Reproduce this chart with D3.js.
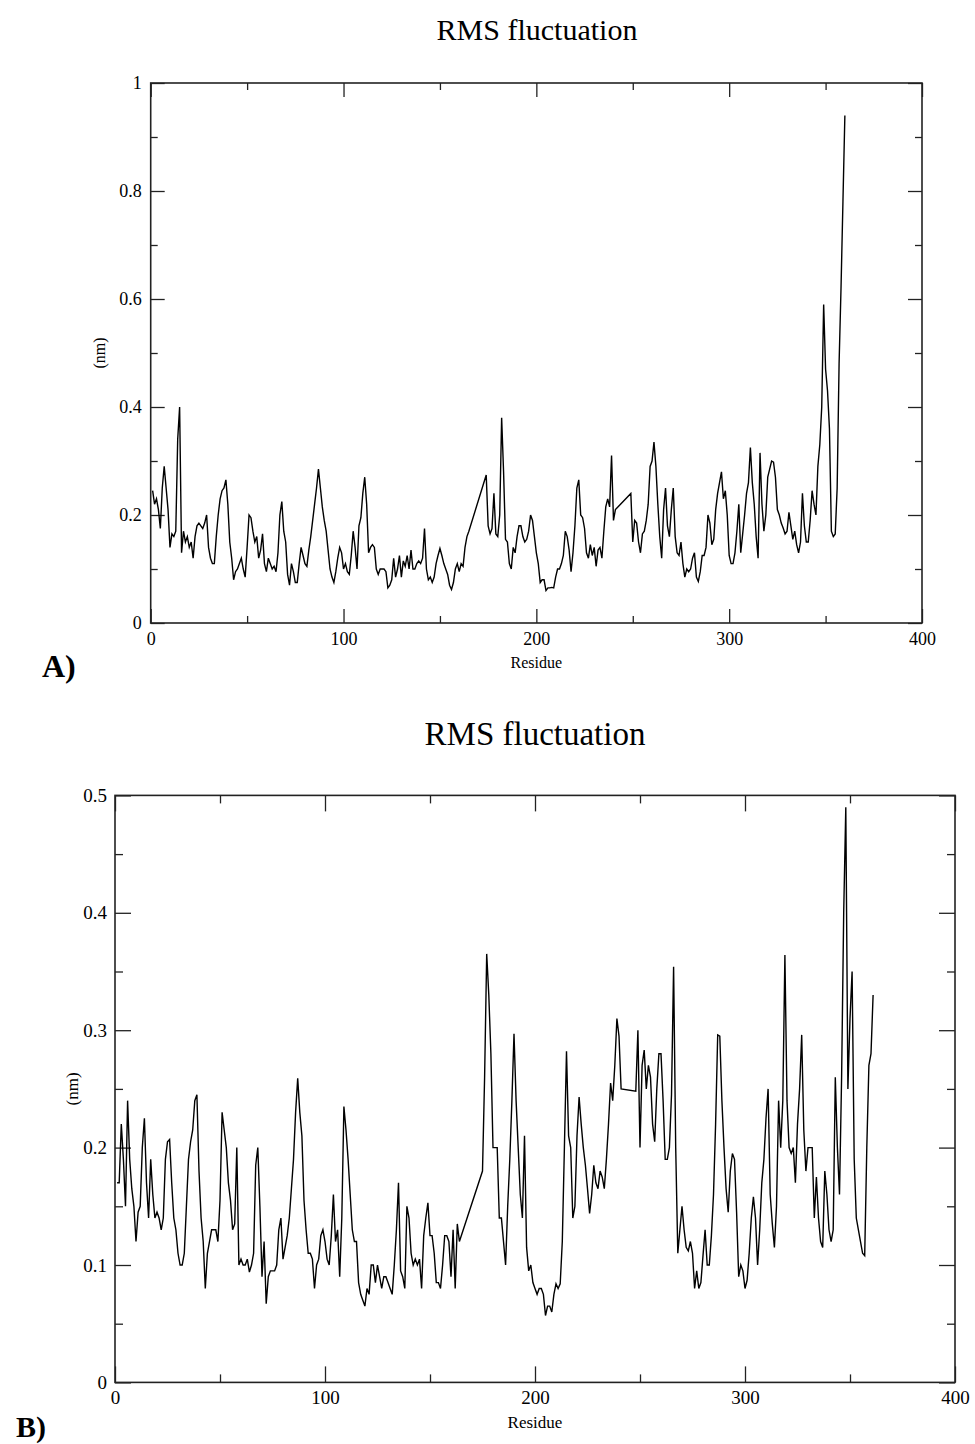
<!DOCTYPE html>
<html>
<head>
<meta charset="utf-8">
<script src="https://cdn.jsdelivr.net/npm/d3@7"></script>
<style>
  body { margin: 0; background: #fff; }
  svg text { font-family: 'Liberation Serif', 'Times New Roman', serif; fill: #000; }
</style>
</head>
<body>
<div class="canvas"></div>
<script>
// chart text
const titleText = 'RMS fluctuation'
const xLabel = 'Residue'
const yLabel = '(nm)'

// residue ticks (shared)
const xTicks = [0, 100, 200, 300, 400]
const xMinorTicks = [50, 150, 250, 350]

// panel A - first residue of each continuous stretch, then RMSF (nm) per residue
const startsA = [1, 174, 249]
const rmsfA1 = [
  0.245, 0.22, 0.23, 0.21, 0.175, 0.25, 0.29, 0.25, 0.21, 0.14,
  0.165, 0.16, 0.17, 0.34, 0.40, 0.13, 0.17, 0.15, 0.16, 0.14,
  0.15, 0.12, 0.16, 0.18, 0.185, 0.18, 0.175, 0.185, 0.2, 0.14,
  0.12, 0.11, 0.11, 0.16, 0.2, 0.23, 0.245, 0.25, 0.265, 0.22,
  0.15, 0.12, 0.08, 0.095, 0.1, 0.11, 0.12, 0.1, 0.085, 0.14,
  0.2, 0.195, 0.17, 0.15, 0.16, 0.12, 0.135, 0.165, 0.11, 0.095,
  0.12, 0.11, 0.1, 0.105, 0.095, 0.13, 0.2, 0.225, 0.17, 0.15,
  0.09, 0.07, 0.11, 0.095, 0.075, 0.075, 0.11, 0.14, 0.125, 0.11,
  0.105, 0.135, 0.16, 0.19, 0.22, 0.25, 0.285, 0.25, 0.215, 0.19,
  0.17, 0.135, 0.1, 0.085, 0.075, 0.095, 0.12, 0.14, 0.13, 0.1,
  0.11, 0.095, 0.09, 0.125, 0.17, 0.14, 0.1, 0.18, 0.195, 0.24,
  0.27, 0.22, 0.13, 0.14, 0.145, 0.14, 0.1, 0.09, 0.1, 0.1,
  0.1, 0.095, 0.065, 0.07, 0.08, 0.12, 0.085, 0.1, 0.125, 0.085,
  0.115, 0.105, 0.125, 0.1, 0.135, 0.1, 0.1, 0.11, 0.115, 0.11,
  0.12, 0.175, 0.1, 0.08, 0.085, 0.075, 0.085, 0.11, 0.125, 0.138,
  0.125, 0.11, 0.1, 0.09, 0.07, 0.062, 0.075, 0.1, 0.11, 0.095,
  0.11, 0.105, 0.14, 0.16, 0.17
]
const rmsfA2 = [
  0.274, 0.18, 0.165, 0.175, 0.24, 0.165, 0.16,
  0.2, 0.38, 0.28, 0.155, 0.15, 0.11, 0.1, 0.14, 0.13, 0.16,
  0.18, 0.18, 0.16, 0.15, 0.155, 0.17, 0.2, 0.19, 0.16, 0.13,
  0.11, 0.075, 0.08, 0.08, 0.06, 0.065, 0.065, 0.066, 0.065, 0.085,
  0.1, 0.1, 0.11, 0.125, 0.17, 0.16, 0.135, 0.095, 0.13, 0.18,
  0.25, 0.265, 0.2, 0.195, 0.175, 0.13, 0.12, 0.145, 0.125, 0.14,
  0.105, 0.135, 0.14, 0.12, 0.17, 0.215, 0.23, 0.215, 0.31, 0.19, 0.21
]
const rmsfA3 = [
  0.24, 0.15,
  0.19, 0.185, 0.15, 0.13, 0.165, 0.17, 0.19, 0.22, 0.29, 0.3,
  0.335, 0.29, 0.22, 0.16, 0.12, 0.21, 0.25, 0.18, 0.16, 0.21,
  0.25, 0.16, 0.13, 0.125, 0.15, 0.11, 0.085, 0.1, 0.095, 0.1,
  0.12, 0.13, 0.085, 0.077, 0.095, 0.125, 0.125, 0.14, 0.2, 0.185,
  0.145, 0.155, 0.21, 0.24, 0.26, 0.28, 0.23, 0.245, 0.2, 0.125,
  0.11, 0.11, 0.13, 0.17, 0.22, 0.13, 0.165, 0.2, 0.24, 0.26,
  0.325, 0.26, 0.22, 0.16, 0.12, 0.315, 0.22, 0.17, 0.2, 0.27,
  0.285, 0.3, 0.298, 0.27, 0.21, 0.2, 0.185, 0.176, 0.165, 0.17,
  0.205, 0.18, 0.155, 0.17, 0.145, 0.13, 0.15, 0.24, 0.18, 0.15,
  0.15, 0.19, 0.245, 0.22, 0.2, 0.29, 0.33, 0.4, 0.59, 0.47,
  0.43, 0.36, 0.17, 0.16, 0.165, 0.25, 0.48, 0.62, 0.78, 0.94
]
const yTicksA = [0, 0.2, 0.4, 0.6, 0.8, 1]
const yMinorTicksA = [0.1, 0.3, 0.5, 0.7, 0.9]

// panel B
const startsB = [1, 175, 248]
const rmsfB1 = [
  0.17, 0.17, 0.22, 0.19, 0.15, 0.24, 0.19, 0.165, 0.15, 0.12,
  0.145, 0.15, 0.2, 0.225, 0.17, 0.14, 0.19, 0.16, 0.14, 0.145,
  0.14, 0.13, 0.14, 0.19, 0.205, 0.207, 0.17, 0.14, 0.13, 0.11,
  0.1, 0.1, 0.11, 0.15, 0.19, 0.205, 0.215, 0.24, 0.245, 0.18,
  0.14, 0.12, 0.08, 0.11, 0.12, 0.13, 0.13, 0.13, 0.12, 0.155,
  0.23, 0.215, 0.2, 0.17, 0.155, 0.13, 0.135, 0.2, 0.1, 0.105,
  0.1, 0.1, 0.105, 0.094, 0.1, 0.11, 0.185, 0.2, 0.15, 0.09,
  0.12, 0.067, 0.09, 0.095, 0.095, 0.095, 0.1, 0.13, 0.14, 0.105,
  0.115, 0.125, 0.14, 0.165, 0.19, 0.23, 0.259, 0.23, 0.21, 0.155,
  0.13, 0.11, 0.11, 0.105, 0.08, 0.1, 0.105, 0.125, 0.13, 0.12,
  0.105, 0.1, 0.125, 0.16, 0.12, 0.13, 0.09, 0.14, 0.235, 0.215,
  0.19, 0.16, 0.13, 0.12, 0.12, 0.085, 0.075, 0.07, 0.065, 0.08,
  0.075, 0.1, 0.1, 0.085, 0.1, 0.09, 0.08, 0.09, 0.09, 0.085,
  0.08, 0.075, 0.1, 0.13, 0.17, 0.095, 0.09, 0.08, 0.15, 0.14,
  0.11, 0.1, 0.105, 0.1, 0.105, 0.08, 0.125, 0.14, 0.153, 0.125,
  0.125, 0.11, 0.085, 0.085, 0.08, 0.1, 0.125, 0.125, 0.12, 0.09,
  0.13, 0.08, 0.135, 0.12
]
const rmsfB2 = [
  0.18, 0.26, 0.365, 0.33, 0.28, 0.2,
  0.2, 0.2, 0.14, 0.14, 0.12, 0.1, 0.15, 0.19, 0.24, 0.297,
  0.24, 0.2, 0.16, 0.14, 0.21, 0.115, 0.095, 0.1, 0.085, 0.08,
  0.075, 0.08, 0.08, 0.075, 0.057, 0.065, 0.065, 0.06, 0.075, 0.084,
  0.08, 0.084, 0.12, 0.2, 0.282, 0.21, 0.2, 0.14, 0.15, 0.21,
  0.243, 0.22, 0.2, 0.185, 0.165, 0.144, 0.16, 0.185, 0.17, 0.165,
  0.18, 0.175, 0.165, 0.19, 0.22, 0.255, 0.24, 0.27, 0.31, 0.295, 0.25
]
const rmsfB3 = [
  0.248, 0.3, 0.2,
  0.27, 0.283, 0.25, 0.27, 0.26, 0.22, 0.205, 0.25, 0.28, 0.28,
  0.24, 0.19, 0.19, 0.2, 0.245, 0.354, 0.2, 0.11, 0.13, 0.15,
  0.13, 0.115, 0.112, 0.12, 0.11, 0.08, 0.095, 0.08, 0.085, 0.108,
  0.13, 0.1, 0.1, 0.125, 0.16, 0.22, 0.296, 0.295, 0.24, 0.2,
  0.165, 0.145, 0.18, 0.195, 0.19, 0.145, 0.09, 0.1, 0.095, 0.08,
  0.087, 0.11, 0.14, 0.158, 0.14, 0.1, 0.13, 0.17, 0.19, 0.225,
  0.25, 0.16, 0.135, 0.115, 0.15, 0.24, 0.2, 0.24, 0.364, 0.24,
  0.2, 0.195, 0.2, 0.17, 0.22, 0.25, 0.296, 0.215, 0.18, 0.2,
  0.2, 0.2, 0.14, 0.175, 0.14, 0.12, 0.115, 0.18, 0.16, 0.13,
  0.12, 0.13, 0.26, 0.2, 0.16, 0.26, 0.4, 0.49, 0.25, 0.31,
  0.35, 0.19, 0.14, 0.13, 0.12, 0.11, 0.108, 0.2, 0.27, 0.28, 0.33
]
const yTicksB = [0, 0.1, 0.2, 0.3, 0.4, 0.5]
const yMinorTicksB = [0.05, 0.15, 0.25, 0.35, 0.45]

// join stretches into {res, val} points
const toPoints = (starts, stretches) =>
  stretches.flatMap((vals, k) => vals.map((v, i) => ({ res: starts[k] + i, val: v })))

const svg = d3.select('.canvas')
  .append('svg')
  .attr('width', 975)
  .attr('height', 1444)

const fmtY = d => d === 0 ? '0' : d === 1 ? '1' : d3.format('.1f')(d)
const fmtX = d => String(d)

const drawPanel = (p) => {
  const x = d3.scaleLinear().domain([0, 400]).range([p.left, p.right])
  const y = d3.scaleLinear().domain([0, p.yMax]).range([p.bottom, p.top])
  const g = svg.append('g')

  // title
  g.append('text')
    .attr('x', p.titleX).attr('y', p.titleY)
    .attr('text-anchor', 'middle')
    .style('font-size', p.titleSize + 'px')
    .text(titleText)

  // ticks: labelled bottom/left, mirrored top/right, all pointing inward
  const addAxis = (axisFn, scale, values, len, format, transform) => {
    const ax = g.append('g')
      .attr('transform', transform)
      .call(axisFn(scale).tickValues(values).tickSize(-len).tickPadding(p.pad)
        .tickFormat(format || ''))
    ax.select('.domain').remove()
    ax.selectAll('line').attr('stroke', '#222').attr('stroke-width', 1.3)
    ax.selectAll('text')
      .style('font-size', p.tickSize + 'px')
      .style('font-family', "'Liberation Serif', 'Times New Roman', serif")
      .attr('fill', '#000')
  }
  addAxis(d3.axisBottom, x, xTicks, p.major, fmtX, `translate(0,${p.bottom})`)
  addAxis(d3.axisBottom, x, xMinorTicks, p.minor, null, `translate(0,${p.bottom})`)
  addAxis(d3.axisTop, x, xTicks, p.major, null, `translate(0,${p.top})`)
  addAxis(d3.axisTop, x, xMinorTicks, p.minor, null, `translate(0,${p.top})`)
  addAxis(d3.axisLeft, y, p.yTicks, p.major, fmtY, `translate(${p.left},0)`)
  addAxis(d3.axisLeft, y, p.yMinor, p.minor, null, `translate(${p.left},0)`)
  addAxis(d3.axisRight, y, p.yTicks, p.major, null, `translate(${p.right},0)`)
  addAxis(d3.axisRight, y, p.yMinor, p.minor, null, `translate(${p.right},0)`)

  // frame
  g.append('rect')
    .attr('x', p.left).attr('y', p.top)
    .attr('width', p.right - p.left).attr('height', p.bottom - p.top)
    .attr('fill', 'none').attr('stroke', '#222').attr('stroke-width', 1.6)

  // rmsf line
  const line = d3.line().x(d => x(d.res)).y(d => y(d.val))
  g.append('path')
    .datum(p.points)
    .attr('d', line)
    .attr('fill', 'none')
    .attr('stroke', '#000')
    .attr('stroke-width', 1.4)

  // axis titles
  g.append('text')
    .attr('x', (p.left + p.right) / 2).attr('y', p.xLabelY)
    .attr('text-anchor', 'middle')
    .style('font-size', p.labelSize + 'px')
    .text(xLabel)
  g.append('text')
    .attr('transform', `translate(${p.yLabelX},${(p.top + p.bottom) / 2}) rotate(-90)`)
    .attr('text-anchor', 'middle')
    .style('font-size', p.labelSize + 'px')
    .text(yLabel)

  // panel letter
  g.append('text')
    .attr('x', p.tagX).attr('y', p.tagY)
    .style('font-size', p.tagSize + 'px').style('font-weight', 'bold')
    .text(p.tag)
}

drawPanel({
  left: 150.7, right: 922, top: 83, bottom: 623, yMax: 1,
  yTicks: yTicksA, yMinor: yMinorTicksA,
  points: toPoints(startsA, [rmsfA1, rmsfA2, rmsfA3]),
  titleX: 537, titleY: 40, titleSize: 30,
  tickSize: 18, labelSize: 16, pad: 9, major: 14, minor: 7,
  xLabelY: 668, yLabelX: 105,
  tag: 'A)', tagX: 42, tagY: 677, tagSize: 32
})

drawPanel({
  left: 115, right: 955, top: 795.4, bottom: 1382.4, yMax: 0.5,
  yTicks: yTicksB, yMinor: yMinorTicksB,
  points: toPoints(startsB, [rmsfB1, rmsfB2, rmsfB3]),
  titleX: 535, titleY: 745, titleSize: 33,
  tickSize: 19, labelSize: 17, pad: 8, major: 16, minor: 8,
  xLabelY: 1428, yLabelX: 78,
  tag: 'B)', tagX: 16, tagY: 1437, tagSize: 30
})
</script>
</body>
</html>
